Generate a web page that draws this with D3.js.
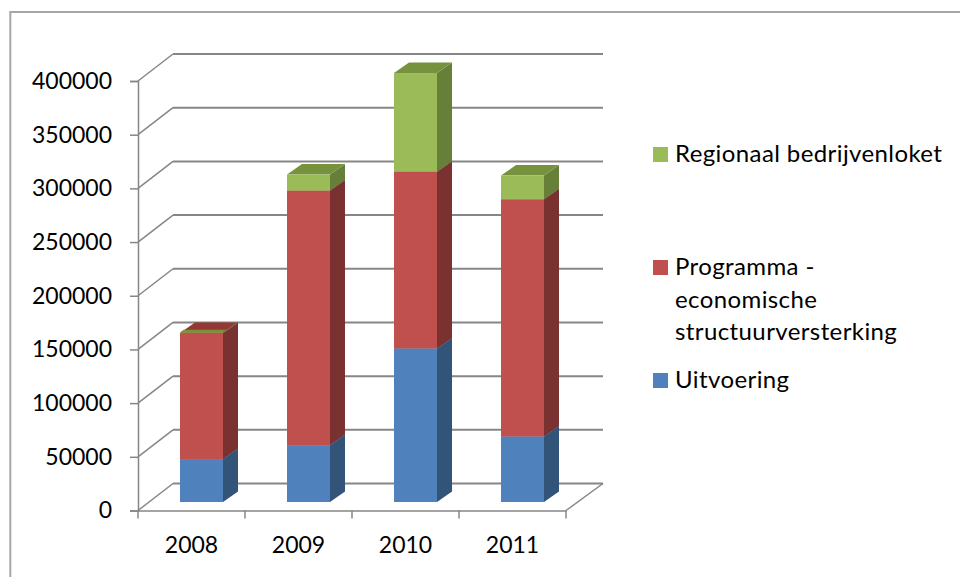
<!DOCTYPE html>
<html>
<head>
<meta charset="utf-8">
<script src="https://d3js.org/d3.v7.min.js"></script>
<style>
  html, body { margin: 0; padding: 0; background: #fff; }
  svg { display: block; }
  text { font-family: Lato, "Open Sans", sans-serif; font-size: 23px; fill: #000; }
  .legend-label { font-size: 24px; letter-spacing: 0.4px; }
</style>
</head>
<body>
<svg id="chart" width="960" height="577"></svg>
<script>
const years = ['2008', '2009', '2010', '2011'];
const uitvoering = [40000, 53000, 143000, 61000];
const programma = [117500, 237000, 164500, 221000];
const bedrijvenloket = [500, 15000, 92000, 22000];
const yTicks = [0, 50000, 100000, 150000, 200000, 250000, 300000, 350000, 400000];
const seriesNames = ['Uitvoering', 'Programma', 'Regionaal'];
const legendLabels = [
  ['Regionaal bedrijvenloket'],
  ['Programma -', 'economische', 'structuurversterking'],
  ['Uitvoering']
];

const svg = d3.select('svg#chart');

// front colour, side colour, top colour per series
const colors = {
  Uitvoering: ['#4f81bd', '#325479', '#3d6596'],
  Programma: ['#c0504d', '#7a3230', '#953735'],
  Regionaal: ['#9bbb59', '#667f39', '#76923c']
};

// wall depth and bar depth of the oblique view
const wall = { dx: 35, dy: -27 };
const barOffset = { dx: 10, dy: -8.5 };
const barDepth = { dx: 15, dy: -10.5 };

const xScale = d3.scaleBand().domain(years).range([138, 566]).paddingInner(0).paddingOuter(0);
const yScale = d3.scaleLinear().domain([0, 400000]).range([510.5, 81]);
const barWidth = 43;

const rows = years.map((year, i) => ({
  year,
  Uitvoering: uitvoering[i],
  Programma: programma[i],
  Regionaal: bedrijvenloket[i]
}));
const stacked = d3.stack().keys(seriesNames)(rows);

// outer frame
svg.append('path')
  .attr('d', 'M10.3,577V12H960')
  .attr('fill', 'none')
  .attr('stroke', '#a6a6a6')
  .attr('stroke-width', 2);

const gridColor = '#868686';
const line = d3.line();

// walls, drawn behind the bars
const gridG = svg.append('g').attr('fill', 'none').attr('stroke', gridColor);
gridG.selectAll('path.side').data(yTicks).enter().append('path')
  .attr('class', 'side')
  .attr('stroke-width', 1.5)
  .attr('d', d => line([
    [138, yScale(d)],
    [138 + wall.dx, yScale(d) + wall.dy]
  ]));
gridG.selectAll('path.grid').data(yTicks).enter().append('path')
  .attr('class', 'grid')
  .attr('stroke-width', 2)
  .attr('d', d => line([
    [138 + wall.dx, yScale(d) + wall.dy],
    [566 + wall.dx + 2, yScale(d) + wall.dy]
  ]));
// floor right edge
gridG.append('path')
  .attr('stroke-width', 1.5)
  .attr('d', line([[566, yScale(0)], [566 + wall.dx + 2, yScale(0) + wall.dy]]));

// axes
const yAxis = d3.axisLeft(yScale).tickValues(yTicks).tickSize(8).tickPadding(18).tickFormat(d3.format('d'));
const yAxisG = svg.append('g').attr('transform', 'translate(138,0)').call(yAxis);
const xAxis = d3.axisBottom(xScale).tickSize(0).tickPadding(26);
const xAxisG = svg.append('g').attr('transform', `translate(0,${yScale(0)})`).call(xAxis);
[yAxisG, xAxisG].forEach(g => {
  g.select('.domain').attr('stroke', gridColor).attr('stroke-width', 1.5);
  g.selectAll('line').attr('stroke', gridColor).attr('stroke-width', 1.5);
  g.attr('font-family', null).attr('font-size', null);
});
xAxisG.selectAll('.cat').data(xScale.domain().map(xScale).concat(566)).enter().append('line')
  .attr('x1', d => d).attr('x2', d => d)
  .attr('y1', 0).attr('y2', 8)
  .attr('stroke', gridColor).attr('stroke-width', 1.5);

// bars
const barX = year => xScale(year) + (xScale.bandwidth() - barWidth) / 2 + barOffset.dx;
const barY = v => yScale(v) + barOffset.dy;
const points = pts => pts.map(p => p.join(',')).join(' ');

stacked.forEach(series => {
  const c = colors[series.key];
  const g = svg.append('g').attr('class', 'series-' + series.key);
  series.forEach(d => {
    const year = d.data.year;
    const x0 = barX(year);
    const x1 = x0 + barWidth;
    const y0 = barY(d[0]);
    const y1 = barY(d[1]);
    // side
    g.append('polygon')
      .attr('fill', c[1])
      .attr('points', points([[x1, y0], [x1 + barDepth.dx, y0 + barDepth.dy], [x1 + barDepth.dx, y1 + barDepth.dy], [x1, y1]]));
    // top; a very thin segment only shows as a sliver on the one below
    const share = d[1] - d[0] < 5000 ? 0.25 : 1;
    g.append('polygon')
      .attr('fill', c[2])
      .attr('points', points([
        [x0, y1],
        [x0 + barDepth.dx * share, y1 + barDepth.dy * share],
        [x1 + barDepth.dx * share, y1 + barDepth.dy * share],
        [x1, y1]
      ]));
    // front
    g.append('rect')
      .attr('fill', c[0])
      .attr('x', x0).attr('y', y1)
      .attr('width', barWidth).attr('height', y0 - y1);
  });
});

// legend
const legendG = svg.append('g');
const legendKeys = ['Regionaal', 'Programma', 'Uitvoering'];
const legendTop = [154.5, 267.5, 380.5];
legendLabels.forEach((lines, i) => {
  legendG.append('rect')
    .attr('x', 653).attr('y', legendTop[i] - 7.5)
    .attr('width', 15).attr('height', 15)
    .attr('fill', colors[legendKeys[i]][0]);
  lines.forEach((t, j) => {
    legendG.append('text')
      .attr('class', 'legend-label')
      .attr('x', 675)
      .attr('y', legendTop[i] + 7.5 + j * 32.5)
      .text(t);
  });
});
</script>
</body>
</html>
